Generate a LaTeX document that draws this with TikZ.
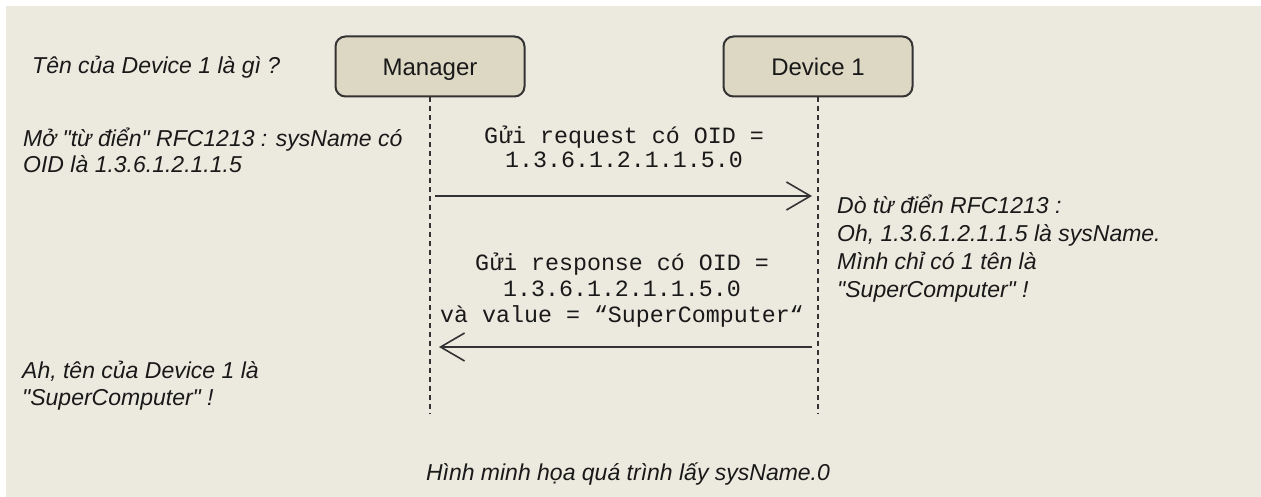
\documentclass[tikz,border=0pt]{standalone}
\usepackage{fontspec}
\setmainfont{Liberation Sans}
\setmonofont{Liberation Mono}
\usetikzlibrary{arrows.meta}

\definecolor{paper}{RGB}{236,233,222}
\definecolor{boxfill}{RGB}{221,216,196}
\definecolor{ink}{RGB}{51,51,51}
\definecolor{txt}{RGB}{25,25,25}

% multi-line nodes are placed by the baseline of their last line
\tikzset{
  actor/.style={draw=ink, line width=2pt, fill=boxfill, rounded corners=10pt,
    minimum width=189pt, minimum height=60pt, inner sep=0pt,
    text height=17.2pt, text depth=0pt,
    font=\fontsize{24}{28}\selectfont, text=txt},
  lifeline/.style={draw=ink, line width=1.3pt, dash pattern=on 5pt off 4pt},
  msg/.style={draw=ink, line width=2pt,
    -{Straight Barb[length=24pt, width=28pt, line width=1.6pt]}},
  note/.style={inner sep=0pt, anchor=base west, align=left, text=txt,
    font=\fontsize{23}{27}\selectfont\itshape},
  code/.style={inner sep=0pt, anchor=base, align=center, text=txt,
    font=\fontsize{23.3}{25}\selectfont\ttfamily},
}

\begin{document}
\begin{tikzpicture}[x=1pt, y=-1pt]
  % page and paper
  \useasboundingbox (0,0) rectangle (1261,497);
  \fill[white] (0,0) rectangle (1261,497);
  \fill[paper] (6,6) rectangle (1261,497);

  % participants
  \node[actor] (mgr) at (430,66.5) {Manager};
  \node[actor] (dev) at (818,66.5) {Device 1};

  % lifelines
  \coordinate (mgrEnd) at (430,413);
  \coordinate (devEnd) at (818,413);
  \draw[lifeline] (mgr.south) -- (mgrEnd);
  \draw[lifeline] (dev.south) -- (devEnd);

  % request message
  \coordinate (reqFrom) at (430,196);
  \coordinate (reqTo) at (818,196);
  \draw[msg, shorten <=5pt, shorten >=6pt] (reqFrom) -- (reqTo);
  \node[code] (reqText) at (624,168) {Gửi request có OID =\\[-0.5pt]1.3.6.1.2.1.1.5.0};

  % response message
  \coordinate (resFrom) at (818,347);
  \coordinate (resTo) at (430,347);
  \draw[msg, shorten <=6pt, shorten >=9pt] (resFrom) -- (resTo);
  \node[code] (resText) at (622,322) {Gửi response có OID =\\[1pt]1.3.6.1.2.1.1.5.0\\[1pt]và value = “SuperComputer“};

  % annotations
  \node[note] (ask) at (32,74) {Tên của Device 1 là gì ?};
  \node[note] (lookup) at (23,173) {Mở \textquotedbl từ điển\textquotedbl{} RFC1213 : sysName có\\[-1pt]OID là 1.3.6.1.2.1.1.5};
  \node[note] (answer) at (837,297) {Dò từ điển RFC1213 :\\[1pt]Oh, 1.3.6.1.2.1.1.5 là sysName.\\[1pt]Mình chỉ có 1 tên là\\[1pt]\textquotedbl SuperComputer\textquotedbl{} !};
  \node[note] (result) at (22,405) {Ah, tên của Device 1 là\\\textquotedbl SuperComputer\textquotedbl{} !};

  % caption
  \node[note, anchor=base] (caption) at (628,480) {Hình minh họa quá trình lấy sysName.0};
\end{tikzpicture}
\end{document}
